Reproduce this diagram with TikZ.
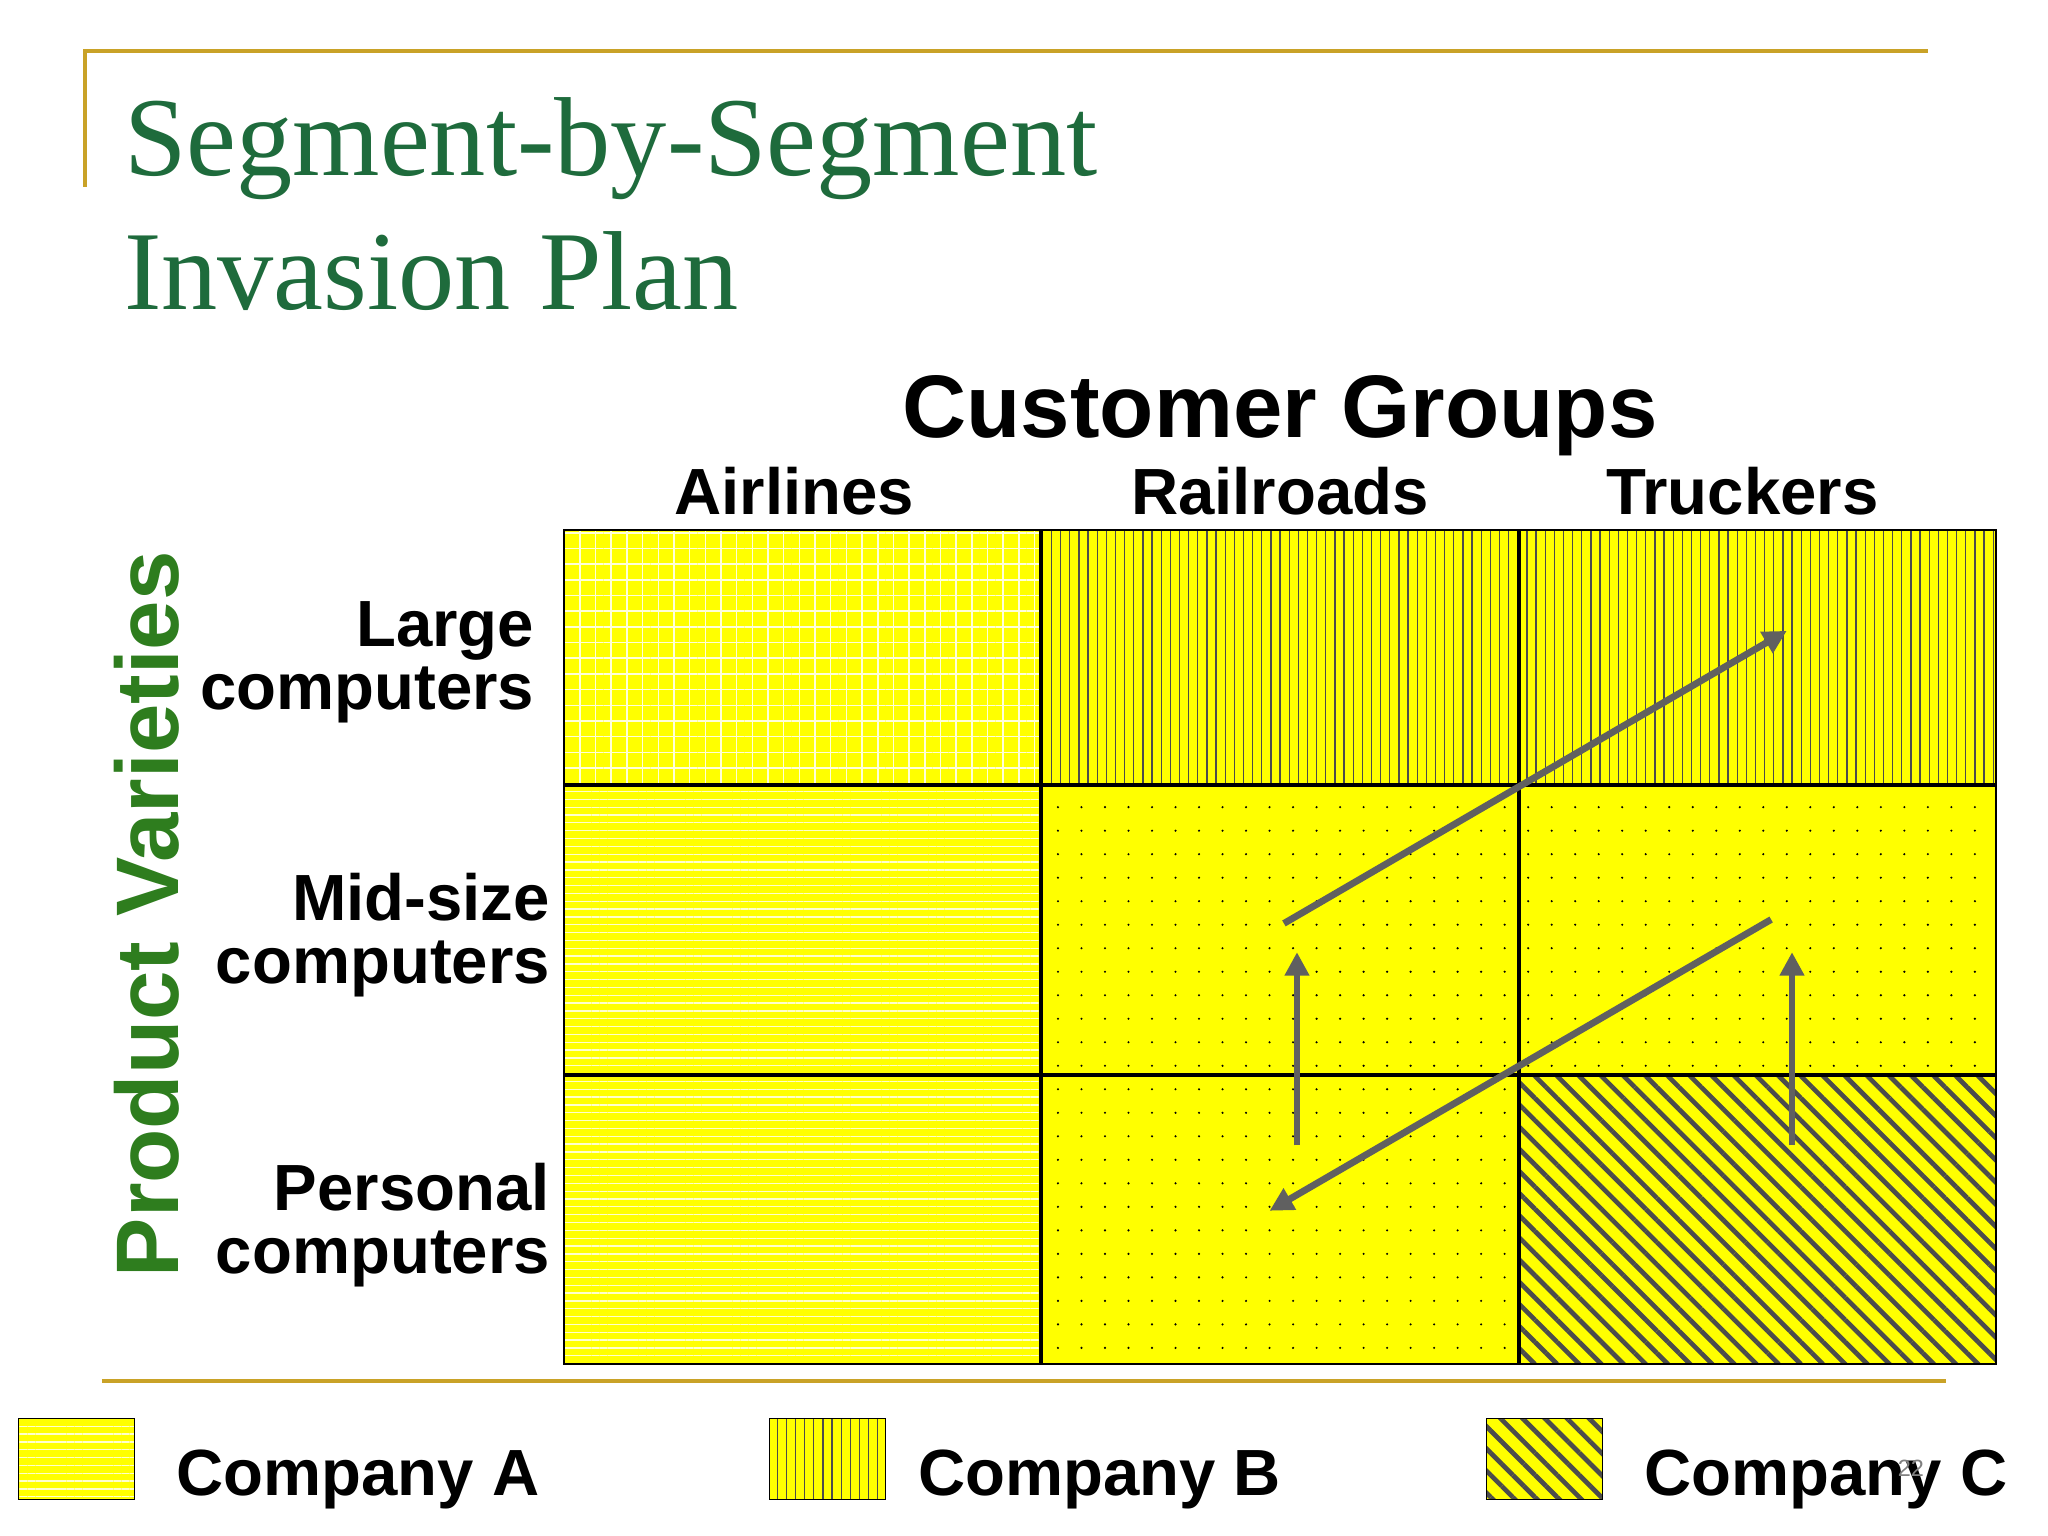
\documentclass[tikz,border=0pt]{standalone}
\usepackage{fontspec}
\setmainfont{Liberation Sans}
\newfontfamily\titlefont{Liberation Serif}
\usetikzlibrary{patterns.meta,arrows.meta}
\definecolor{gold}{HTML}{C9A227}
\definecolor{tgreen}{HTML}{1E6B3C}
\definecolor{pgreen}{HTML}{2E7D1E}
\definecolor{ylw}{HTML}{FFFF00}
\definecolor{arr}{HTML}{606060}
\begin{document}
\begin{tikzpicture}[x=0.5pt,y=-0.5pt,
  lbl/.style={font=\bfseries\fontsize{25}{24}\selectfont},
  patA/.style={pattern={Lines[angle=0,distance=3pt,line width=0.5pt]},pattern color=white!80!ylw},
  patG/.style={pattern={Hatch[angle=0,distance=6pt,line width=0.6pt]},pattern color=white!85!ylw},
  patB/.style={pattern={Lines[angle=90,distance=3.5pt,line width=0.5pt]},pattern color=black!70},
  patD/.style={pattern={Dots[distance=9pt,radius=0.45pt]},pattern color=black},
  patC/.style={pattern={Lines[angle=-45,distance=6pt,line width=1.8pt]},pattern color=black!70},
  ar/.style={draw=arr,line width=2.6pt,-{Triangle[length=9pt,width=9pt]}}]
\useasboundingbox (0,0) rectangle (1568,1176);
\fill[white] (0,0) rectangle (1568,1176);
\draw[gold,line width=1.5pt] (65,143) -- (65,39) -- (1476,39);
\draw[gold,line width=1.5pt] (78,1057) -- (1490,1057);
\node[anchor=north west,align=left,text=tgreen,font=\titlefont\fontsize{43}{51}\selectfont] (title) at (88,68) {Segment-by-Segment\\Invasion Plan};
\foreach \xa/\xb in {432/797,797/1163,1163/1528}{
  \foreach \ya/\yb in {406/601,601/823,823/1044}{
    \fill[ylw] (\xa,\ya) rectangle (\xb,\yb);}}
\fill[patG] (432,406) rectangle (797,601);
\fill[patA] (432,601) rectangle (797,1044);
\fill[patB] (797,406) rectangle (1528,601);
\fill[patD] (797,601) rectangle (1528,823);
\fill[patD] (797,823) rectangle (1163,1044);
\fill[patC] (1163,823) rectangle (1528,1044);
\draw[line width=0.8pt] (432,406) rectangle (1528,1044);
\draw[line width=1.5pt] (797,406) -- (797,1044) (1163,406) -- (1163,1044) (432,601) -- (1528,601) (432,823) -- (1528,823);
\coordinate (a1s) at (983,707); \coordinate (a1e) at (1368,483);
\coordinate (a2s) at (1356,704); \coordinate (a2e) at (972,927);
\coordinate (u1s) at (993,877); \coordinate (u1e) at (993,729);
\coordinate (u2s) at (1372,877); \coordinate (u2e) at (1372,729);
\draw[ar] (a1s) -- (a1e);
\draw[ar] (a2s) -- (a2e);
\draw[ar] (u1s) -- (u1e);
\draw[ar] (u2s) -- (u2e);
\node[font=\bfseries\fontsize{34}{36}\selectfont] (cg) at (980,318) {Customer Groups};
\node[lbl] (c1) at (608,376) {Airlines};
\node[lbl] (c2) at (980,376) {Railroads};
\node[lbl] (c3) at (1334,376) {Truckers};
\node[lbl,anchor=east,align=right] (r1) at (416,507) {Large\\computers};
\node[lbl,anchor=east,align=right] (r2) at (428,716) {Mid-size\\computers};
\node[lbl,anchor=east,align=right] (r3) at (428,938) {Personal\\computers};
\node[rotate=90,text=pgreen,font=\bfseries\fontsize{34}{36}\selectfont] (pv) at (112,700) {Product Varieties};
\fill[ylw] (14,1086) rectangle (103,1148); \fill[patA] (14,1086) rectangle (103,1148);
\draw (14,1086) rectangle (103,1148);
\fill[ylw] (589,1086) rectangle (678,1148); \fill[patB] (589,1086) rectangle (678,1148);
\draw (589,1086) rectangle (678,1148);
\fill[ylw] (1138,1086) rectangle (1227,1148); \fill[patC] (1138,1086) rectangle (1227,1148);
\draw (1138,1086) rectangle (1227,1148);
\node[lbl,anchor=west] (la) at (128,1133) {Company A};
\node[lbl,anchor=west] (lb) at (696,1133) {Company B};
\node[lbl,anchor=west] (lc) at (1252,1133) {Company C};
\node[text=black!50,font=\fontsize{9}{10}\selectfont] (pg) at (1463,1124) {22};
\end{tikzpicture}
\end{document}
